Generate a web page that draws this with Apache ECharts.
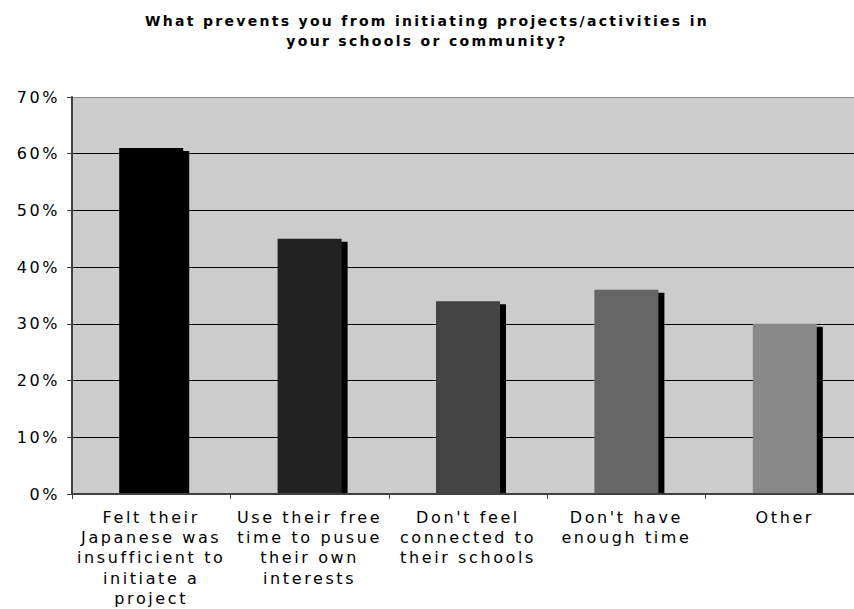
<!DOCTYPE html>
<html>
<head>
<meta charset="utf-8">
<script src="https://cdn.jsdelivr.net/npm/echarts@6/dist/echarts.min.js"></script>
<style>
  html, body { margin: 0; padding: 0; background: #ffffff; overflow: hidden; }
  #chart { width: 854px; height: 609px; }
  /* wide, airy lettering for all chart text */
  #chart text { letter-spacing: 2.6px; }
  #chart text[style*="bold"] { letter-spacing: 2.3px; }
</style>
</head>
<body>
<div id="chart"></div>
<script>
// Survey answers (share of respondents, %)
const categories = [
  'Felt their\nJapanese was\ninsufficient to\ninitiate a\nproject',
  'Use their free\ntime to pusue\ntheir own\ninterests',
  "Don't feel\nconnected to\ntheir schools",
  "Don't have\nenough time",
  'Other'
];
const shares = [61, 45, 34, 36, 30];
const barColors = ['#000000', '#222222', '#444444', '#666666', '#888888'];
const yMin = 0, yMax = 70, yStep = 10;
const titleText = 'What prevents you from initiating projects/activities in\nyour schools or community?';

const font = "'DejaVu Sans', Verdana, sans-serif";
const BAR_W = 64;      // bar thickness in px
const DROP_X = 6;      // drop-shadow offset to the right
const DROP_Y = 3;      // drop-shadow offset downwards

// one line colour per horizontal rule, from 0% up to 70%
const ruleColors = [];
for (let v = yMin; v <= yMax; v += yStep) {
  ruleColors.push(v === yMax ? '#8c8c8c' : '#000000');
}

// hard black drop shadow behind each bar, stopping at the baseline
function renderDrop(params, api) {
  const top = api.coord([api.value(0), api.value(1)]);
  const base = api.coord([api.value(0), yMin]);
  const x = top[0] - BAR_W / 2 + DROP_X;
  const y = top[1] + DROP_Y;
  return {
    type: 'rect',
    shape: { x: x, y: y, width: BAR_W, height: Math.max(0, base[1] - y) },
    style: { fill: '#000000' }
  };
}

const chart = echarts.init(document.getElementById('chart'), null, { renderer: 'svg' });
chart.setOption({
  animation: false,
  backgroundColor: '#ffffff',
  title: {
    text: titleText,
    left: 'center',
    top: 6,
    textStyle: {
      fontFamily: font,
      fontSize: 14,
      fontWeight: 'bold',
      color: '#000000',
      lineHeight: 20
    }
  },
  grid: {
    left: 72,
    width: 792,
    top: 97,
    bottom: 115,
    outerBoundsMode: 'none',
    containLabel: false,
    show: true,
    backgroundColor: '#cccccc',
    borderWidth: 0
  },
  xAxis: {
    type: 'category',
    data: categories,
    z: 5,
    axisLine: { lineStyle: { color: '#404040', width: 2 } },
    axisTick: { show: true, length: 5, lineStyle: { color: '#404040', width: 1 } },
    axisLabel: {
      interval: 0,
      margin: 13,
      fontFamily: font,
      fontSize: 16,
      lineHeight: 20.3,
      color: '#000000'
    }
  },
  yAxis: {
    type: 'value',
    min: yMin,
    max: yMax,
    interval: yStep,
    axisLine: { show: true, lineStyle: { color: '#404040', width: 2 } },
    axisTick: { show: true, length: 5, lineStyle: { color: '#404040', width: 1 } },
    axisLabel: {
      formatter: '{value}%',
      margin: 12,
      fontFamily: font,
      fontSize: 16,
      color: '#000000'
    },
    splitLine: { show: true, lineStyle: { color: ruleColors, width: 1 } }
  },
  series: [
    {
      type: 'custom',
      z: 1,
      renderItem: renderDrop,
      encode: { x: 0, y: 1 },
      data: shares.map((v, i) => [i, v])
    },
    {
      type: 'bar',
      z: 2,
      barWidth: BAR_W,
      data: shares.map((v, i) => ({
        value: v,
        itemStyle: { color: barColors[i] }
      }))
    }
  ]
});
</script>
</body>
</html>
